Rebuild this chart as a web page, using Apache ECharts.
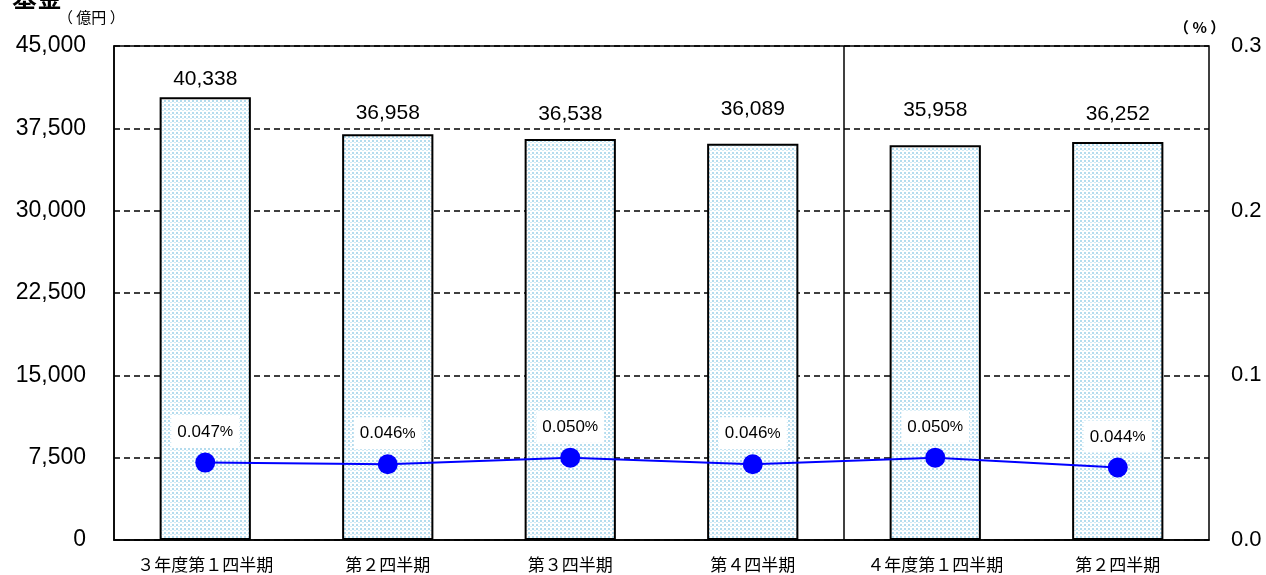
<!DOCTYPE html>
<html>
<head>
<meta charset="utf-8">
<script src="https://cdn.jsdelivr.net/npm/echarts@6/dist/echarts.min.js"></script>
<style>
html,body{margin:0;padding:0;background:#fff;}
#chart{width:1266px;height:575px;}
</style>
</head>
<body>
<div id="chart"></div>
<script>
const categories = ['３年度第１四半期', '第２四半期', '第３四半期', '第４四半期', '４年度第１四半期', '第２四半期'];
const fundValues = [40338, 36958, 36538, 36089, 35958, 36252];
const rateValues = [0.047, 0.046, 0.050, 0.046, 0.050, 0.044];
const leftTicks = [0, 7500, 15000, 22500, 30000, 37500, 45000];
const rightTicks = [0, 0.1, 0.2, 0.3];
const dividerAt = 4;

function makePattern() {
  const c = document.createElement('canvas');
  c.width = 4; c.height = 4;
  const ctx = c.getContext('2d');
  ctx.fillStyle = '#ffffff';
  ctx.fillRect(0, 0, 4, 4);
  ctx.fillStyle = '#b4dcee';
  ctx.fillRect(0, 0, 2, 2);
  ctx.fillStyle = '#d2ebf6';
  ctx.fillRect(2, 2, 2, 1);
  return c;
}

const numFont = "'Liberation Sans', Arial, sans-serif";
const jpFont = "'Noto Sans CJK JP', sans-serif";
const barLabelGaps = [7, 11, 14, 24, 25, 17];

const chart = echarts.init(document.getElementById('chart'), null, {renderer: 'canvas'});
chart.setOption({
  animation: false,
  backgroundColor: '#fff',
  grid: {left: 114, right: 57, top: 46, bottom: 35, show: true, borderColor: '#000', borderWidth: 1.5, backgroundColor: 'transparent'},
  graphic: [
    {type: 'text', left: 12, top: -15, style: {text: '基金', font: "bold 25px 'Noto Sans CJK JP'", fill: '#000'}},
    {type: 'text', left: 58, top: 10, style: {text: '（ 億円 ）', font: "15px 'Noto Sans CJK JP'", fill: '#000'}},
    {type: 'text', left: 1174, top: 20, style: {text: '（ % ）', font: "bold 15px 'Noto Sans CJK JP'", fill: '#000'}}
  ],
  xAxis: [
    {
      type: 'category', data: categories, position: 'bottom',
      axisLine: {show: true, lineStyle: {color: '#000', width: 1.5}},
      axisTick: {show: false},
      axisLabel: {color: '#000', fontFamily: jpFont, fontSize: 17, margin: 16, interval: 0}
    },
    {
      type: 'value', min: 0, max: categories.length, show: false
    }
  ],
  yAxis: [
    {
      type: 'value', min: leftTicks[0], max: leftTicks[leftTicks.length - 1], interval: 7500,
      axisLine: {show: true, lineStyle: {color: '#000', width: 1.5}},
      axisTick: {show: false},
      axisLabel: {color: '#000', fontFamily: numFont, fontSize: 23, margin: 28,
        formatter: v => v.toLocaleString('en-US')},
      splitLine: {show: true, lineStyle: {color: '#000', type: [6, 4], width: 1.5}}
    },
    {
      type: 'value', min: rightTicks[0], max: rightTicks[rightTicks.length - 1], interval: 0.1,
      axisLine: {show: false},
      axisTick: {show: false},
      axisLabel: {color: '#000', fontFamily: numFont, fontSize: 22, margin: 22,
        formatter: v => v.toFixed(1)},
      splitLine: {show: false}
    }
  ],
  series: [
    {
      type: 'bar', barWidth: '50%', xAxisIndex: 0, yAxisIndex: 0,
      data: fundValues.map((v, i) => ({value: v, label: {distance: barLabelGaps[i]}})),
      itemStyle: {color: {image: makePattern(), repeat: 'repeat'}, borderColor: '#000', borderWidth: 2},
      label: {show: true, position: 'top', color: '#000', fontFamily: numFont, fontSize: 21,
        formatter: p => p.value.toLocaleString('en-US')},
      z: 2
    },
    {
      type: 'line', data: rateValues, xAxisIndex: 0, yAxisIndex: 1,
      symbol: 'circle', symbolSize: 20,
      lineStyle: {color: '#0000ff', width: 2},
      itemStyle: {color: '#0000ff'},
      label: {show: true, position: 'top', distance: 5, backgroundColor: '#fff', padding: [8, 6, 7, 6],
        formatter: p => '{n|' + p.value.toFixed(3) + '}{p|%}',
        rich: {n: {fontFamily: numFont, fontSize: 17, color: '#000'}, p: {fontFamily: numFont, fontSize: 15, color: '#000'}}},
      z: 5
    },
    {
      type: 'line', data: [], xAxisIndex: 1, yAxisIndex: 0,
      markLine: {silent: true, symbol: 'none', label: {show: false},
        lineStyle: {color: '#000', type: 'solid', width: 1.5},
        data: [{xAxis: dividerAt}]},
      z: 3
    }
  ]
});
</script>
</body>
</html>
